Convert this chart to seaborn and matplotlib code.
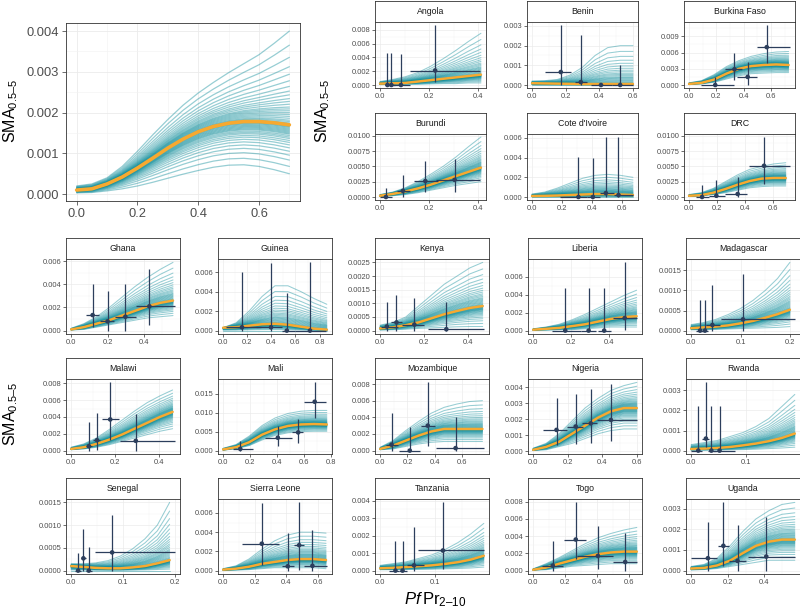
import numpy as np
import pandas as pd
import matplotlib
matplotlib.use("Agg")
import matplotlib.pyplot as plt
from matplotlib.ticker import MultipleLocator, AutoMinorLocator, FuncFormatter
import seaborn as sns

sns.set_theme(style="white")
plt.rcParams['font.family'] = ['Liberation Sans', 'DejaVu Sans']
plt.rcParams['mathtext.fontset'] = 'custom'
plt.rcParams['mathtext.rm'] = 'Liberation Sans'
plt.rcParams['mathtext.it'] = 'Liberation Sans:italic'

TEAL = '#088a98'
ORANGE = '#f7a930'
NAVY = '#2c3e5c'

# ---- curve data: median / upper / lower envelope of posterior draws, evenly spaced points on [0, x_max]
x_max = {'Overall': 0.7, 'Angola': 0.41, 'Benin': 0.6, 'Burkina Faso': 0.73, 'Burundi': 0.41,
         "Cote d'Ivoire": 0.67, 'DRC': 0.69, 'Ghana': 0.56, 'Guinea': 0.86, 'Kenya': 0.465,
         'Liberia': 0.545, 'Madagascar': 0.2, 'Malawi': 0.46, 'Mali': 0.77, 'Mozambique': 0.75,
         'Nigeria': 0.6, 'Rwanda': 0.19, 'Senegal': 0.19, 'Sierra Leone': 0.65, 'Tanzania': 0.19,
         'Togo': 0.65, 'Uganda': 0.57}

median = {
    'Overall': [0.0001, 0.00013, 0.00025, 0.00042, 0.00064, 0.00088, 0.00113, 0.00135, 0.00153,
                0.00166, 0.00174, 0.00178, 0.00178, 0.00175, 0.0017],
    'Angola': [0.0002, 0.00025, 0.0003, 0.0005, 0.0007, 0.0009, 0.0011, 0.0013, 0.0015],
    'Benin': [0.00009, 0.00008, 0.00007, 0.00006, 0.00005, 0.00005, 0.00005, 0.00005, 0.00005],
    'Burkina Faso': [0.0002, 0.0004, 0.001, 0.0021, 0.003, 0.0035, 0.0037, 0.0038, 0.0037],
    'Burundi': [0.0002, 0.0005, 0.0009, 0.0014, 0.002, 0.0027, 0.0034, 0.0041, 0.0048],
    "Cote d'Ivoire": [0.0001, 0.00012, 0.00015, 0.0002, 0.00025, 0.0003, 0.0003, 0.00025, 0.0002],
    'DRC': [0.0002, 0.0003, 0.0007, 0.0013, 0.002, 0.0026, 0.003, 0.0031, 0.0031],
    'Ghana': [0.0001, 0.0003, 0.0006, 0.0009, 0.0013, 0.0017, 0.0021, 0.0024, 0.0026],
    'Guinea': [0.0003, 0.00035, 0.0005, 0.00065, 0.0007, 0.0006, 0.0004, 0.0002, 0.0001],
    'Kenya': [0.00008, 0.00012, 0.0002, 0.0003, 0.00045, 0.0006, 0.00072, 0.00083, 0.0009],
    'Liberia': [0.0001, 0.0002, 0.0003, 0.0005, 0.0007, 0.001, 0.0013, 0.0015, 0.0016],
    'Madagascar': [0.00006, 0.00008, 0.0001, 0.00013, 0.00018, 0.00024, 0.00032, 0.00041, 0.00052],
    'Malawi': [0.0002, 0.0004, 0.0008, 0.0013, 0.0019, 0.0026, 0.0033, 0.004, 0.0046],
    'Mali': [0.0003, 0.0009, 0.0022, 0.0042, 0.0056, 0.0065, 0.0069, 0.007, 0.0069],
    'Mozambique': [0.0002, 0.0006, 0.0012, 0.0018, 0.0023, 0.0026, 0.0026, 0.0026, 0.0026],
    'Nigeria': [0.0001, 0.00028, 0.0006, 0.0011, 0.0016, 0.0021, 0.0025, 0.0027, 0.0027],
    'Rwanda': [0.00008, 0.0001, 0.00013, 0.00018, 0.00026, 0.00035, 0.00047, 0.00063, 0.00085],
    'Senegal': [0.0001, 0.00008, 0.00006, 0.00005, 0.00005, 0.00007, 0.0001, 0.00016, 0.00023],
    'Sierra Leone': [0.0001, 0.0002, 0.0004, 0.0007, 0.0009, 0.0011, 0.0012, 0.0012, 0.0011],
    'Tanzania': [0.00013, 0.00016, 0.0002, 0.00025, 0.0003, 0.00038, 0.00048, 0.00063, 0.00085],
    'Togo': [0.0001, 0.00035, 0.0008, 0.0012, 0.0016, 0.0019, 0.0021, 0.0022, 0.0022],
    'Uganda': [0.0001, 0.00013, 0.00025, 0.00048, 0.00085, 0.0012, 0.0014, 0.0015, 0.0015],
}
upper = {
    'Overall': [0.0002, 0.00025, 0.0004, 0.00068, 0.00105, 0.00145, 0.00183, 0.00218, 0.00248,
                0.00274, 0.00298, 0.0032, 0.00342, 0.0037, 0.004],
    'Angola': [0.0005, 0.0008, 0.0012, 0.0018, 0.0027, 0.0038, 0.005, 0.0063, 0.0075],
    'Benin': [0.0002, 0.00022, 0.00028, 0.0005, 0.0009, 0.0015, 0.0019, 0.002, 0.002],
    'Burkina Faso': [0.0004, 0.0008, 0.0019, 0.0034, 0.0045, 0.0053, 0.0058, 0.0061, 0.0062],
    'Burundi': [0.0004, 0.0008, 0.0015, 0.0025, 0.0037, 0.005, 0.0065, 0.0082, 0.0098],
    "Cote d'Ivoire": [0.0003, 0.0005, 0.0009, 0.0014, 0.0019, 0.0022, 0.0023, 0.0022, 0.002],
    'DRC': [0.0004, 0.0007, 0.0014, 0.0025, 0.0036, 0.0045, 0.005, 0.0054, 0.0056],
    'Ghana': [0.0002, 0.0006, 0.0012, 0.002, 0.0029, 0.0038, 0.0046, 0.0053, 0.0059],
    'Guinea': [0.0003, 0.0008, 0.002, 0.0035, 0.0046, 0.0046, 0.004, 0.0033, 0.0027],
    'Kenya': [0.0002, 0.0003, 0.0005, 0.0009, 0.0013, 0.0017, 0.002, 0.0023, 0.0025],
    'Liberia': [0.0002, 0.0004, 0.0007, 0.0012, 0.0018, 0.0025, 0.0032, 0.0039, 0.0045],
    'Madagascar': [0.00015, 0.0002, 0.00028, 0.0004, 0.00055, 0.00075, 0.001, 0.0013, 0.0017],
    'Malawi': [0.0004, 0.0008, 0.0015, 0.0025, 0.0036, 0.0047, 0.0057, 0.0065, 0.0072],
    'Mali': [0.0006, 0.0016, 0.0038, 0.0066, 0.0086, 0.0098, 0.0104, 0.0106, 0.0106],
    'Mozambique': [0.0004, 0.0012, 0.0024, 0.0035, 0.0045, 0.0052, 0.0056, 0.0059, 0.006],
    'Nigeria': [0.0002, 0.0005, 0.0011, 0.0019, 0.0027, 0.0033, 0.0038, 0.0041, 0.0043],
    'Rwanda': [0.0003, 0.0004, 0.0005, 0.0007, 0.0009, 0.0012, 0.0016, 0.0022, 0.0028],
    'Senegal': [0.00015, 0.00015, 0.00017, 0.00022, 0.00032, 0.00048, 0.0007, 0.001, 0.0015],
    'Sierra Leone': [0.0002, 0.0005, 0.0012, 0.0022, 0.0031, 0.0037, 0.004, 0.004, 0.0039],
    'Tanzania': [0.0003, 0.0004, 0.0005, 0.0007, 0.0009, 0.0012, 0.0016, 0.0021, 0.0027],
    'Togo': [0.0002, 0.0008, 0.0015, 0.0023, 0.0031, 0.0038, 0.0043, 0.0047, 0.005],
    'Uganda': [0.0002, 0.0003, 0.0006, 0.0012, 0.0019, 0.0025, 0.0029, 0.0032, 0.0033],
}
lower = {
    'Overall': [0.00003, 0.00004, 0.00008, 0.00013, 0.0002, 0.00029, 0.00039, 0.00049, 0.00058,
                0.00066, 0.00071, 0.00072, 0.00068, 0.0006, 0.0005],
    'Angola': [0.00005, 0.00005, 0.0001, 0.0001, 0.00015, 0.0002, 0.0002, 0.0003, 0.0003],
    'Benin': [0, 0, 0, 0, 0, 0, 0, 0, 0],
    'Burkina Faso': [0.0001, 0.0002, 0.0005, 0.0011, 0.0017, 0.0021, 0.0022, 0.0023, 0.0023],
    'Burundi': [0.0001, 0.0002, 0.0004, 0.0007, 0.0011, 0.0015, 0.0019, 0.0022, 0.0025],
    "Cote d'Ivoire": [0, 0, 0, 0, 0, 0, 0, 0, 0],
    'DRC': [0.0001, 0.0002, 0.0004, 0.0007, 0.0011, 0.0015, 0.0017, 0.0018, 0.0018],
    'Ghana': [0.00005, 0.0001, 0.0003, 0.0005, 0.0007, 0.0009, 0.0011, 0.0012, 0.0013],
    'Guinea': [0, 0, 0, 0, 0, 0, 0, 0, 0],
    'Kenya': [0.00002, 0.00003, 0.00005, 0.00008, 0.0001, 0.00012, 0.00014, 0.00015, 0.00015],
    'Liberia': [0.00003, 0.00005, 0.0001, 0.0001, 0.0002, 0.0003, 0.0004, 0.0004, 0.0004],
    'Madagascar': [0.00002, 0.00002, 0.00003, 0.00004, 0.00005, 0.00006, 0.00007, 0.00008, 0.0001],
    'Malawi': [0.0001, 0.0002, 0.0004, 0.0007, 0.0011, 0.0015, 0.0019, 0.0023, 0.0026],
    'Mali': [0.0001, 0.0005, 0.0013, 0.0028, 0.004, 0.0047, 0.005, 0.0051, 0.0051],
    'Mozambique': [0.0001, 0.0002, 0.0005, 0.0008, 0.001, 0.0011, 0.0011, 0.0011, 0.0011],
    'Nigeria': [0.00005, 0.0001, 0.0003, 0.0005, 0.0008, 0.0011, 0.0013, 0.0014, 0.0014],
    'Rwanda': [0.00002, 0.00002, 0.00003, 0.00004, 0.00005, 0.00007, 0.0001, 0.00013, 0.00017],
    'Senegal': [0, 0, 0, 0, 0, 0, 0, 0, 0],
    'Sierra Leone': [0, 0.00005, 0.0001, 0.0002, 0.0003, 0.0003, 0.0003, 0.0003, 0.0002],
    'Tanzania': [0.00005, 0.00005, 0.00006, 0.00007, 0.00008, 0.0001, 0.00012, 0.00015, 0.0002],
    'Togo': [0.00005, 0.0001, 0.0003, 0.0005, 0.0006, 0.0007, 0.0008, 0.0008, 0.0008],
    'Uganda': [0.00003, 0.00005, 0.0001, 0.0002, 0.0003, 0.0004, 0.0005, 0.0005, 0.0005],
}
# relative position of each drawn curve between median (0) and envelope (+/-1)
spread = [-1.0, -0.85, -0.72, -0.62, -0.54, -0.47, -0.41, -0.36, -0.32, -0.28, -0.25, -0.22,
          -0.19, -0.17, -0.15, -0.13, -0.11, -0.09, -0.07, -0.05, -0.035, -0.02, -0.01, 0.0,
          0.01, 0.02, 0.035, 0.05, 0.07, 0.09, 0.11, 0.13, 0.15, 0.17, 0.19, 0.22, 0.25, 0.28,
          0.32, 0.36, 0.41, 0.47, 0.54, 0.62, 0.72, 0.85, 1.0]

# ---- observed points with intervals
pt_x = {'Angola': [0.03, 0.046, 0.085, 0.224], 'Benin': [0.171, 0.29, 0.41, 0.524],
        'Burkina Faso': [0.192, 0.333, 0.43, 0.57], 'Burundi': [0.024, 0.093, 0.184, 0.303],
        "Cote d'Ivoire": [0.308, 0.404, 0.49, 0.574], 'DRC': [0.093, 0.195, 0.347, 0.535],
        'Ghana': [0.118, 0.2, 0.298, 0.43], 'Guinea': [0.156, 0.397, 0.528, 0.72],
        'Kenya': [0.03, 0.074, 0.155, 0.3], 'Liberia': [0.169, 0.292, 0.374, 0.482],
        'Madagascar': [0.018, 0.028, 0.043, 0.105], 'Malawi': [0.08, 0.117, 0.177, 0.293],
        'Mali': [0.127, 0.406, 0.557, 0.68], 'Mozambique': [0.083, 0.217, 0.349, 0.553],
        'Nigeria': [0.135, 0.246, 0.333, 0.45], 'Rwanda': [0.013, 0.027, 0.037, 0.052],
        'Senegal': [0.0134, 0.0236, 0.034, 0.079], 'Sierra Leone': [0.244, 0.408, 0.48, 0.564],
        'Tanzania': [0.028, 0.041, 0.062, 0.115], 'Togo': [0.123, 0.267, 0.406, 0.577],
        'Uganda': [0.092, 0.177, 0.255, 0.413]}
pt_xlo = {'Angola': [0.02, 0.035, 0.05, 0.12], 'Benin': [0.076, 0.257, 0.35, 0.476],
          'Burkina Faso': [0.085, 0.267, 0.35, 0.5], 'Burundi': [0.0, 0.07, 0.136, 0.229],
          "Cote d'Ivoire": [0.184, 0.365, 0.45, 0.546], 'DRC': [0.05, 0.14, 0.26, 0.43],
          'Ghana': [0.084, 0.16, 0.24, 0.356], 'Guinea': [0.02, 0.27, 0.49, 0.6],
          'Kenya': [0.003, 0.05, 0.1, 0.215], 'Liberia': [0.1, 0.25, 0.34, 0.42],
          'Madagascar': [0.01, 0.02, 0.03, 0.06], 'Malawi': [0.065, 0.1, 0.14, 0.22],
          'Mali': [0.07, 0.31, 0.515, 0.6], 'Mozambique': [0.04, 0.14, 0.3, 0.41],
          'Nigeria': [0.058, 0.196, 0.283, 0.37], 'Rwanda': [0.0, 0.02, 0.03, 0.04],
          'Senegal': [0.008, 0.019, 0.029, 0.045], 'Sierra Leone': [0.116, 0.37, 0.45, 0.51],
          'Tanzania': [0.017, 0.035, 0.05, 0.07], 'Togo': [0.056, 0.196, 0.275, 0.5],
          'Uganda': [0.0, 0.15, 0.21, 0.31]}
pt_xhi = {'Angola': [0.04, 0.06, 0.12, 0.405], 'Benin': [0.232, 0.324, 0.476, 0.6],
          'Burkina Faso': [0.33, 0.388, 0.495, 0.74], 'Burundi': [0.05, 0.12, 0.235, 0.405],
          "Cote d'Ivoire": [0.365, 0.45, 0.546, 0.67], 'DRC': [0.14, 0.26, 0.41, 0.72],
          'Ghana': [0.155, 0.236, 0.356, 0.57], 'Guinea': [0.31, 0.49, 0.6, 0.85],
          'Kenya': [0.08, 0.1, 0.2, 0.47], 'Liberia': [0.25, 0.33, 0.41, 0.546],
          'Madagascar': [0.025, 0.035, 0.059, 0.21], 'Malawi': [0.095, 0.13, 0.215, 0.47],
          'Mali': [0.22, 0.515, 0.594, 0.767], 'Mozambique': [0.127, 0.29, 0.4, 0.76],
          'Nigeria': [0.196, 0.29, 0.37, 0.6], 'Rwanda': [0.02, 0.033, 0.045, 0.08],
          'Senegal': [0.018, 0.028, 0.04, 0.2], 'Sierra Leone': [0.354, 0.45, 0.51, 0.655],
          'Tanzania': [0.035, 0.05, 0.08, 0.19], 'Togo': [0.19, 0.333, 0.5, 0.65],
          'Uganda': [0.14, 0.21, 0.3, 0.57]}
pt_y = {'Angola': [0, 0, 0, 0.0021], 'Benin': [0.00066, 0.00015, 0, 0],
        'Burkina Faso': [0, 0.0029, 0.0015, 0.007], 'Burundi': [0, 0.001, 0.0026, 0.0028],
        "Cote d'Ivoire": [0, 0, 0.0004, 0.0002], 'DRC': [0, 0.0002, 0.0005, 0.0051],
        'Ghana': [0.00134, 0.0008, 0.0012, 0.0021], 'Guinea': [0.00034, 0.00034, 0, 0],
        'Kenya': [0.00015, 0.0003, 0.00022, 0.00005], 'Liberia': [0, 0, 0, 0.0014],
        'Madagascar': [0, 0, 0.00014, 0.00028], 'Malawi': [0.00052, 0.00124, 0.0037, 0.00116],
        'Mali': [0.00044, 0.0034, 0.0048, 0.0129], 'Mozambique': [0.00072, 0, 0.003, 0.0003],
        'Nigeria': [0.00134, 0.00155, 0.00175, 0.00196], 'Rwanda': [0, 0.0006, 0, 0],
        'Senegal': [0, 0.00027, 0, 0.0004], 'Sierra Leone': [0.0028, 0.00045, 0.00265, 0.0005],
        'Tanzania': [0, 0, 0.0003, 0.00115], 'Togo': [0.00058, 0.0036, 0.0017, 0.001],
        'Uganda': [0.0006, 0.0012, 0.00047, 0.00068]}
pt_ylo = {'Angola': [0, 0, 0, 0.0004], 'Benin': [0, 0, 0, 0],
          'Burkina Faso': [0, 0.001, 0, 0.004], 'Burundi': [0, 0, 0.0008, 0.0008],
          "Cote d'Ivoire": [0, 0, 0, 0], 'DRC': [0, 0, 0, 0.0021],
          'Ghana': [0.00035, 0, 0, 0.0005], 'Guinea': [0, 0, 0, 0],
          'Kenya': [0, 0, 0, 0], 'Liberia': [0, 0, 0, 0.0001],
          'Madagascar': [0, 0, 0, 0], 'Malawi': [0, 0.0001, 0.0013, 0],
          'Mali': [0, 0.0012, 0.002, 0.0087], 'Mozambique': [0, 0, 0.0006, 0],
          'Nigeria': [0.00037, 0.00047, 0.00054, 0.00062], 'Rwanda': [0, 0.0002, 0, 0],
          'Senegal': [0, 0, 0, 0], 'Sierra Leone': [0.0006, 0, 0.0001, 0],
          'Tanzania': [0, 0, 0, 0.0001], 'Togo': [0, 0.0013, 0.0002, 0],
          'Uganda': [0, 0.00024, 0, 0]}
pt_yhi = {'Angola': [0.0046, 0.0046, 0.0045, 0.0087], 'Benin': [0.00305, 0.00256, 0.00002, 0.00103],
          'Burkina Faso': [0.0015, 0.0059, 0.0042, 0.0111], 'Burundi': [0.0015, 0.0036, 0.0059, 0.0062],
          "Cote d'Ivoire": [0.0041, 0.004, 0.0061, 0.0061], 'DRC': [0.0019, 0.0028, 0.0033, 0.0098],
          'Ghana': [0.004, 0.0034, 0.004, 0.0053], 'Guinea': [0.006, 0.0069, 0.0039, 0.007],
          'Kenya': [0.00105, 0.0013, 0.0012, 0.00104], 'Liberia': [0.0048, 0.0047, 0.0047, 0.0076],
          'Madagascar': [0.00077, 0.00077, 0.00114, 0.00142], 'Malawi': [0.0034, 0.0045, 0.0081, 0.0044],
          'Mali': [0.0025, 0.0066, 0.0084, 0.018], 'Mozambique': [0.0045, 0.0028, 0.0082, 0.0041],
          'Nigeria': [0.0033, 0.0036, 0.0039, 0.0042], 'Rwanda': [0.0022, 0.0034, 0.0022, 0.0022],
          'Senegal': [0.00038, 0.00092, 0.00051, 0.00123], 'Sierra Leone': [0.007, 0.0039, 0.0071, 0.0042],
          'Tanzania': [0.00167, 0.00167, 0.0025, 0.0039], 'Togo': [0.0034, 0.0079, 0.0052, 0.0043],
          'Uganda': [0.00234, 0.0033, 0.0022, 0.0026]}

# ---- axis ticks
x_step = {'Overall': 0.2, 'Angola': 0.2, 'Benin': 0.2, 'Burkina Faso': 0.2, 'Burundi': 0.2,
          "Cote d'Ivoire": 0.2, 'DRC': 0.2, 'Ghana': 0.2, 'Guinea': 0.2, 'Kenya': 0.2,
          'Liberia': 0.2, 'Madagascar': 0.1, 'Malawi': 0.2, 'Mali': 0.2, 'Mozambique': 0.2,
          'Nigeria': 0.2, 'Rwanda': 0.1, 'Senegal': 0.1, 'Sierra Leone': 0.2, 'Tanzania': 0.1,
          'Togo': 0.2, 'Uganda': 0.2}
y_step = {'Overall': 0.001, 'Angola': 0.002, 'Benin': 0.001, 'Burkina Faso': 0.003, 'Burundi': 0.0025,
          "Cote d'Ivoire": 0.002, 'DRC': 0.0025, 'Ghana': 0.002, 'Guinea': 0.002, 'Kenya': 0.0005,
          'Liberia': 0.002, 'Madagascar': 0.0005, 'Malawi': 0.002, 'Mali': 0.005, 'Mozambique': 0.002,
          'Nigeria': 0.001, 'Rwanda': 0.001, 'Senegal': 0.0005, 'Sierra Leone': 0.002, 'Tanzania': 0.001,
          'Togo': 0.002, 'Uganda': 0.001}
y_dec = {'Burundi': 4, 'DRC': 4, 'Kenya': 4, 'Madagascar': 4, 'Senegal': 4}

top_right = ['Angola', 'Benin', 'Burkina Faso', 'Burundi', "Cote d'Ivoire", 'DRC']
bottom = ['Ghana', 'Guinea', 'Kenya', 'Liberia', 'Madagascar', 'Malawi', 'Mali', 'Mozambique',
          'Nigeria', 'Rwanda', 'Senegal', 'Sierra Leone', 'Tanzania', 'Togo', 'Uganda']

W, H = 800, 615
fig = plt.figure(figsize=(8, 6.15), dpi=100)
fig.patch.set_facecolor('white')


def px_axes(left, top, width, height):
    return fig.add_axes([left / W, 1 - (top + height) / H, width / W, height / H])


def style_axes(ax, name, big):
    ax.set_facecolor('white')
    ax.set_xlabel('')
    ax.set_ylabel('')
    dec = y_dec.get(name, 3)
    ax.xaxis.set_major_locator(MultipleLocator(x_step[name]))
    ax.yaxis.set_major_locator(MultipleLocator(y_step[name]))
    ax.xaxis.set_minor_locator(AutoMinorLocator(2))
    ax.yaxis.set_minor_locator(AutoMinorLocator(2))
    ax.xaxis.set_major_formatter(FuncFormatter(lambda v, p: f"{abs(v) if abs(v) < 1e-12 else v:.1f}"))
    ax.yaxis.set_major_formatter(FuncFormatter(lambda v, p, d=dec: f"{abs(v) if abs(v) < 1e-12 else v:.{d}f}"))
    ax.grid(True, which='major', color='#ebebeb', lw=0.6 if big else 0.5)
    ax.grid(True, which='minor', color='#f2f2f2', lw=0.4 if big else 0.3)
    ax.set_axisbelow(True)
    for s in ax.spines.values():
        s.set_color('#333333')
        s.set_linewidth(0.6)
    ax.tick_params(which='major', direction='out', length=3.2 if big else 2.2, width=0.5,
                   color='#333333', labelcolor='#4d4d4d', labelsize=9.3 if big else 5.4,
                   pad=2 if big else 1.2, bottom=True, left=True)
    ax.tick_params(which='minor', length=0)


def draw_panel(ax, name, big=False):
    med = np.array(median[name])
    up = np.array(upper[name])
    lo = np.array(lower[name])
    xs = np.linspace(0, x_max[name], len(med))
    frames = []
    for j, d in enumerate(spread):
        ys = med + d * (up - med) if d >= 0 else med + d * (med - lo)
        frames.append(pd.DataFrame({'x': xs, 'y': ys, 'draw': j}))
    draws = pd.concat(frames, ignore_index=True)
    sns.lineplot(data=draws, x='x', y='y', units='draw', estimator=None, color=TEAL,
                 alpha=0.42, lw=0.9 if big else 0.75, ax=ax, legend=False)
    sns.lineplot(x=xs, y=med, color=ORANGE, lw=2.6 if big else 1.8, ax=ax, legend=False)
    if name in pt_x:
        px = np.array(pt_x[name])
        py = np.array(pt_y[name])
        xerr = [px - np.array(pt_xlo[name]), np.array(pt_xhi[name]) - px]
        yerr = [py - np.array(pt_ylo[name]), np.array(pt_yhi[name]) - py]
        ax.errorbar(px, py, xerr=xerr, yerr=yerr, fmt='none', ecolor=NAVY,
                    elinewidth=0.9, capsize=0, zorder=4)
        sns.scatterplot(x=px, y=py, color=NAVY, s=11, edgecolor='none', ax=ax, zorder=5, legend=False)
    style_axes(ax, name, big)


def add_strip(left, top, width, label):
    s = px_axes(left, top, width, 21)
    s.set_facecolor('white')
    s.set_xticks([])
    s.set_yticks([])
    for sp in s.spines.values():
        sp.set_color('#333333')
        sp.set_linewidth(0.6)
    s.text(0.5, 0.48, label, ha='center', va='center', fontsize=6.3, color='#1a1a1a',
           transform=s.transAxes)


# big pooled panel
ax_main = px_axes(66, 23, 234, 178)
draw_panel(ax_main, 'Overall', big=True)

# top-right 2x3 block
tr_cols = [375, 527, 684]
tr_rows = [1, 113]
for i, name in enumerate(top_right):
    left = tr_cols[i % 3]
    top = tr_rows[i // 3]
    add_strip(left, top, 111, name)
    ax = px_axes(left, top + 21, 111, 66)
    draw_panel(ax, name)

# bottom 3x5 block
b_cols = [66, 218, 375, 528, 686]
b_rows = [238, 358, 478]
for i, name in enumerate(bottom):
    left = b_cols[i % 5]
    top = b_rows[i // 5]
    add_strip(left, top, 114, name)
    ax = px_axes(left, top + 21, 114, 75)
    draw_panel(ax, name)

ylab = r'$\mathrm{SMA}_{0.5\mathrm{–}5}$'
fig.text(11 / W, 1 - 111 / H, ylab, rotation=90, ha='center', va='center', fontsize=11.5, color='black')
fig.text(323 / W, 1 - 111 / H, ylab, rotation=90, ha='center', va='center', fontsize=11.5, color='black')
fig.text(11 / W, 1 - 414 / H, ylab, rotation=90, ha='center', va='center', fontsize=11.5, color='black')
fig.text(435 / W, 1 - 600 / H, r'$\mathit{Pf}\,\mathrm{Pr}_{2\mathrm{–}10}$', ha='center', va='center',
         fontsize=12, color='black')

fig.savefig('out.png', dpi=100, facecolor='white')
